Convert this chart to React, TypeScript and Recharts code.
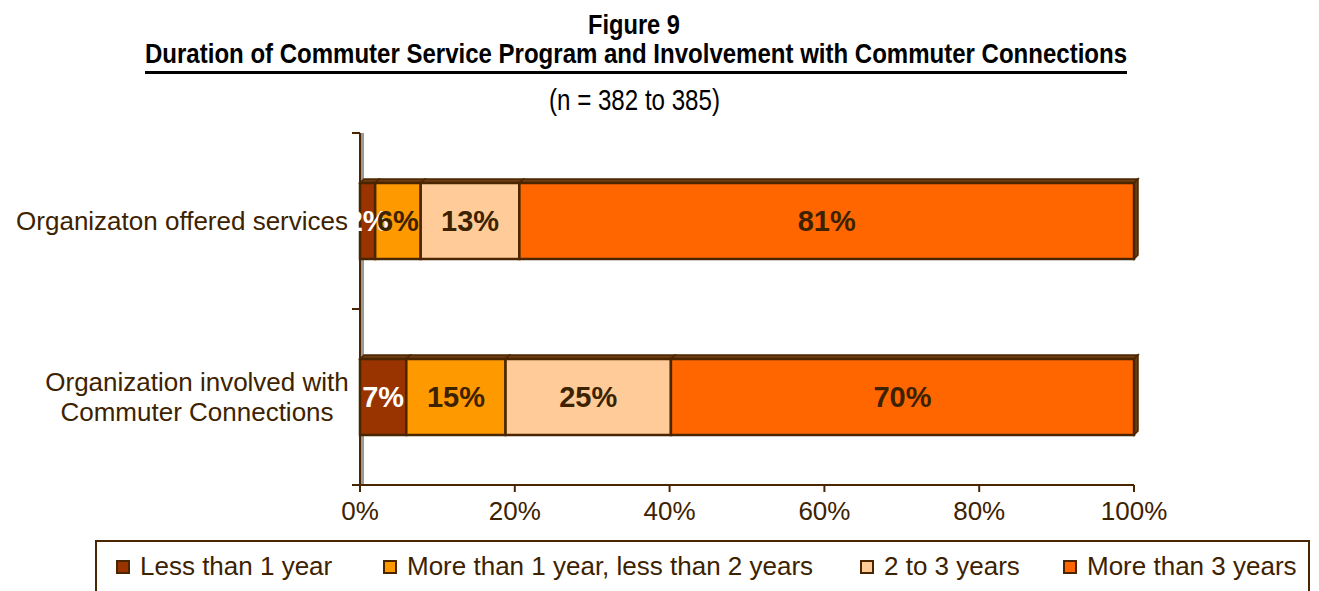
import { BarChart, Bar, XAxis, YAxis, LabelList } from "recharts";

const categories = ["Organizaton offered services", "Organization involved with|Commuter Connections"];
const lessThan1 = [2, 7];
const oneToTwo = [6, 15];
const twoToThree = [13, 25];
const moreThan3 = [81, 70];
const xTicks = [0, 0.2, 0.4, 0.6, 0.8, 1];

const seriesNames = [
  "Less than 1 year",
  "More than 1 year, less than 2 years",
  "2 to 3 years",
  "More than 3 years",
];
const seriesKeys = ["lt1", "oneTwo", "twoThree", "gt3"];
const seriesColors = ["#993300", "#FF9900", "#FFCC99", "#FF6600"];
const labelColors = ["#ffffff", "#3d2200", "#3d2200", "#3d2200"];

const EDGE = "#4a2600";
const TEXT = "#3d2200";
const FONT = "Arial, 'Liberation Sans', sans-serif";

const data = categories.map((name, i) => ({
  name,
  lt1: lessThan1[i],
  oneTwo: oneToTwo[i],
  twoThree: twoToThree[i],
  gt3: moreThan3[i],
}));

const BAND = 176;

const Bar3D = (props: any) => {
  const { x, y, width, height, fill, last } = props;
  const d = 4;
  return (
    <g>
      <polygon
        points={`${x},${y} ${x + d},${y - d} ${x + width + d},${y - d} ${x + width},${y}`}
        fill="#6b3c14"
        stroke={EDGE}
        strokeWidth={1.5}
      />
      {last && (
        <polygon
          points={`${x + width},${y} ${x + width + d},${y - d} ${x + width + d},${y + height - d} ${x + width},${y + height}`}
          fill="#6b3c14"
          stroke={EDGE}
          strokeWidth={1.5}
        />
      )}
      <rect x={x} y={y} width={width} height={height} fill={fill} stroke={EDGE} strokeWidth={2.5} />
    </g>
  );
};

// category label plus the boundary tick marks
const YTick = (props: any) => {
  const { x, y, payload } = props;
  const lines = String(payload.value).split("|");
  const axisX = x + 10;
  return (
    <g>
      <line x1={axisX - 8} x2={axisX} y1={y - BAND / 2} y2={y - BAND / 2} stroke={EDGE} strokeWidth={2} />
      <line x1={axisX - 8} x2={axisX} y1={y + BAND / 2} y2={y + BAND / 2} stroke={EDGE} strokeWidth={2} />
      {lines.length === 1 ? (
        <text x={x - 2} y={y} dy={9} textAnchor="end" fill={TEXT} fontSize={26} fontFamily={FONT}>
          {lines[0]}
        </text>
      ) : (
        <text x={x - 153} y={y} textAnchor="middle" fill={TEXT} fontSize={26} fontFamily={FONT}>
          {lines.map((l, i) => (
            <tspan key={i} x={x - 153} dy={i === 0 ? -6 : 30}>
              {l}
            </tspan>
          ))}
        </text>
      )}
    </g>
  );
};

export default function App() {
  return (
    <div style={{ position: "absolute", left: 0, top: 0, width: 1319, height: 591, background: "#fff", overflow: "hidden" }}>
      <svg width={1319} height={591} style={{ position: "absolute", left: 0, top: 0 }}>
        <text x={634} y={34} textAnchor="middle" fontFamily={FONT} fontWeight="bold" fontSize={28} textLength={92} lengthAdjust="spacingAndGlyphs" fill="#000">
          Figure 9
        </text>
        <text x={636} y={63} textAnchor="middle" fontFamily={FONT} fontWeight="bold" fontSize={28} textLength={982} lengthAdjust="spacingAndGlyphs" fill="#000">
          Duration of Commuter Service Program and Involvement with Commuter Connections
        </text>
        <line x1={145} x2={1127} y1={72.5} y2={72.5} stroke="#000" strokeWidth={3} />
        <text x={634.5} y={110} textAnchor="middle" fontFamily={FONT} fontSize={29} textLength={171} lengthAdjust="spacingAndGlyphs" fill="#000">
          (n = 382 to 385)
        </text>
        {/* grey 3D wall edge behind the bars */}
        <line x1={362.5} x2={362.5} y1={133} y2={484} stroke="#9a9a9a" strokeWidth={3} />
      </svg>
      <div style={{ position: "absolute", left: 0, top: 0 }}>
        <BarChart
          width={1319}
          height={591}
          data={data}
          layout="vertical"
          stackOffset="expand"
          barSize={76}
          margin={{ top: 133, right: 185, bottom: 56, left: 0 }}
        >
          <XAxis
            type="number"
            domain={[0, 1]}
            ticks={xTicks}
            tickFormatter={(v: number) => `${Math.round(v * 100)}%`}
            axisLine={{ stroke: EDGE, strokeWidth: 2 }}
            tickLine={{ stroke: EDGE, strokeWidth: 2 }}
            tickSize={7}
            tickMargin={10}
            tick={{ fill: TEXT, fontSize: 26, fontFamily: FONT }}
            height={50}
          />
          <YAxis
            type="category"
            dataKey="name"
            width={360}
            axisLine={{ stroke: EDGE, strokeWidth: 2 }}
            tickLine={false}
            tickSize={0}
            tick={<YTick />}
            tickMargin={10}
          />
          {seriesKeys.map((key, i) => (
            <Bar
              key={key}
              dataKey={key}
              stackId="a"
              fill={seriesColors[i]}
              isAnimationActive={false}
              shape={(p: any) => <Bar3D {...p} last={i === seriesKeys.length - 1} />}
            >
              <LabelList
                dataKey={key}
                position="center"
                formatter={(v: any) => `${v}%`}
                fill={labelColors[i]}
                style={{ fontSize: 29, fontWeight: "bold", fontFamily: FONT }}
              />
            </Bar>
          ))}
        </BarChart>
      </div>
      <div
        style={{
          position: "absolute",
          left: 95,
          top: 540,
          width: 1215,
          height: 70,
          border: `2px solid ${EDGE}`,
          boxSizing: "border-box",
          fontFamily: FONT,
          fontSize: 26,
          color: TEXT,
        }}
      >
        {seriesNames.map((name, i) => (
          <div
            key={name}
            style={{ position: "absolute", top: 9, left: [19, 286, 763, 966][i], display: "flex", alignItems: "center", whiteSpace: "nowrap" }}
          >
            <span
              style={{ display: "inline-block", width: 10, height: 10, background: seriesColors[i], border: `2px solid ${EDGE}`, marginRight: 10 }}
            />
            {name}
          </div>
        ))}
      </div>
    </div>
  );
}
